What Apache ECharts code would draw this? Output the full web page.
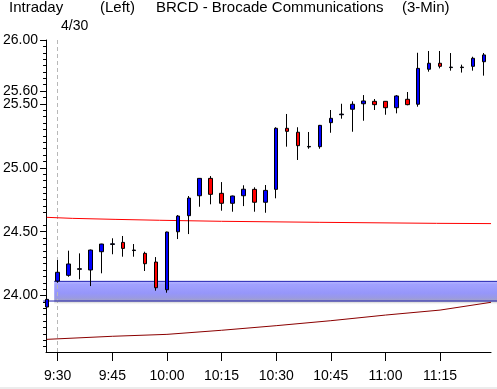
<!DOCTYPE html>
<html><head><meta charset="utf-8">
<script src="https://cdn.jsdelivr.net/npm/echarts@6/dist/echarts.min.js"></script>
<style>html,body{margin:0;padding:0;background:#fff}#c{width:497px;height:389px}</style>
</head><body><div id="c"></div>
<script>
// ---- data ----
const times  = ['9:27','9:30','9:33','9:36','9:39','9:42','9:45','9:48','9:51','9:54','9:57',
                '10:00','10:03','10:06','10:09','10:12','10:15','10:18','10:21','10:24','10:27',
                '10:30','10:33','10:36','10:39','10:42','10:45','10:48','10:51','10:54','10:57',
                '11:00','11:03','11:06','11:09','11:12','11:15','11:18','11:21','11:24','11:27'];
const opens  = [23.910,24.113,24.158,24.205,24.200,24.343,24.400,24.416,24.352,24.330,24.262,
                24.045,24.499,24.625,24.781,24.917,24.800,24.722,24.781,24.831,24.730,
                24.831,25.309,25.278,25.163,25.165,25.353,25.415,25.458,25.501,25.520,
                25.520,25.470,25.536,25.497,25.771,25.818,25.784,25.784,25.794,25.830];
const closes = [23.970,24.182,24.247,24.210,24.356,24.403,24.405,24.369,24.356,24.249,24.061,
                24.497,24.622,24.763,24.917,24.792,24.722,24.779,24.832,24.730,24.823,
                25.309,25.285,25.173,25.167,25.332,25.387,25.420,25.497,25.523,25.494,
                25.470,25.562,25.494,25.778,25.818,25.794,25.788,25.788,25.857,25.883];
const lows   = [23.835,24.100,24.147,24.127,24.074,24.174,24.323,24.304,24.304,24.192,24.038,
                24.022,24.442,24.481,24.695,24.714,24.664,24.656,24.700,24.656,24.648,
                24.761,25.165,25.061,25.149,25.149,25.274,25.384,25.282,25.368,25.452,
                25.415,25.426,25.489,25.478,25.752,25.778,25.760,25.745,25.760,25.721];
const highs  = [23.975,24.278,24.351,24.330,24.360,24.405,24.448,24.466,24.403,24.343,24.301,
                24.500,24.630,24.779,24.920,24.935,24.888,24.782,24.863,24.847,24.865,
                25.317,25.421,25.317,25.280,25.335,25.452,25.501,25.520,25.569,25.538,
                25.522,25.569,25.593,25.900,25.914,25.914,25.898,25.807,25.869,25.898];

const upperTimes = ['9:27','9:34','9:46','9:58','10:15','10:42','11:14','11:29'];
const upperVals  = [24.612,24.604,24.596,24.589,24.581,24.573,24.565,24.563];
const lowerTimes = ['9:27','9:45','10:00','10:15','10:30','10:45','11:00','11:15','11:29'];
const lowerVals  = [23.657,23.681,23.696,23.728,23.764,23.803,23.847,23.886,23.947];

const bandTop = 24.111, bandBottom = 23.957;
const bandStart = '9:30', bandLineStart = '9:27', bandEnd = '11:31';
const sessionStart = '9:30', sessionLabel = '4/30';

const xTickLabels = ['9:30','9:45','10:00','10:15','10:30','10:45','11:00','11:15'];
const yTickLabels = ['24.00','24.50','25.00','25.50','25.60','26.00'];
const yMinorTickLabels = ['23.60','23.65','23.70','23.75','23.80','23.85','23.90','23.95',
  '24.05','24.10','24.15','24.20','24.25','24.30','24.35','24.40','24.45',
  '24.55','24.65','24.70','24.75','24.80','24.85','24.90','24.95',
  '25.05','25.10','25.15','25.20','25.25','25.30','25.35','25.40','25.45',
  '25.55','25.65','25.70','25.75','25.80','25.85','25.90','25.95'];

const titleParts = ['Intraday','(Left)','BRCD - Brocade Communications','(3-Min)'];

// ---- helpers ----
const toMin = s => { const p = s.split(':').map(Number); return p[0]*60 + p[1]; };
const fmt = v => Math.floor(v/60) + ':' + String(Math.round(v%60)).padStart(2,'0');

const X0 = 566.8, X1 = 689, X1b = 691;
const Y0 = 23.558, Y1 = 26.0;
const PX = 3.6705;
const FONT = 'Liberation Sans';

const candleData = times.map((t,i)=>[toMin(t), opens[i], closes[i], lows[i], highs[i]]);
const upperData = upperTimes.map((t,i)=>[toMin(t), upperVals[i]]);
const lowerData = lowerTimes.map((t,i)=>[toMin(t), lowerVals[i]]);

const chart = echarts.init(document.getElementById('c'), null, {renderer:'canvas'});
const titleLefts = [9, 100, 156, 402];
chart.setOption({
  animation:false,
  backgroundColor:'#ffffff',
  title: titleParts.map((t,i)=>({text:t, left:titleLefts[i], top:0, padding:0,
      textStyle:{fontFamily:FONT, fontSize:15, fontWeight:'normal', color:'#000'}}))
    .concat([{text:sessionLabel, left:61, top:19, padding:0,
      textStyle:{fontFamily:FONT, fontSize:14, fontWeight:'normal', color:'#000'}}]),
  graphic:[{type:'rect', left:0, top:387, shape:{width:497,height:2}, style:{fill:'#ececec'}, silent:true}],
  grid:[
    {left:42.5, top:40, width:(X1-X0)*PX, height:312},
    {left:42.5, top:40, width:(X1b-X0)*PX, height:312}
  ],
  xAxis:[
    {type:'value', gridIndex:0, min:X0, max:X1,
     axisLine:{show:true, lineStyle:{color:'#000', width:1}},
     splitLine:{show:false},
     axisTick:{show:true, length:9, lineStyle:{color:'#000'}, customValues:xTickLabels.map(toMin)},
     axisLabel:{show:true, margin:17, fontFamily:FONT, fontSize:14, color:'#000',
       customValues:xTickLabels.map(toMin), formatter:fmt}},
    {type:'value', gridIndex:1, min:X0, max:X1b, show:false}
  ],
  yAxis:[
    {type:'value', gridIndex:0, position:'left', min:Y0, max:Y1,
     axisLine:{show:true, lineStyle:{color:'#000', width:1}},
     splitLine:{show:false},
     axisTick:{show:true, length:6, lineStyle:{color:'#000'}, customValues:yTickLabels.map(Number)},
     axisLabel:{show:true, margin:8, fontFamily:FONT, fontSize:14, color:'#000',
       customValues:yTickLabels.map(Number), formatter:v=>v.toFixed(2)}},
    {type:'value', gridIndex:0, position:'left', min:Y0, max:Y1,
     axisLine:{show:false}, splitLine:{show:false}, axisLabel:{show:false},
     axisTick:{show:true, length:3, lineStyle:{color:'#000'}, customValues:yMinorTickLabels.map(Number)}},
    {type:'value', gridIndex:1, min:Y0, max:Y1, show:false}
  ],
  series:[
    {type:'line', xAxisIndex:1, yAxisIndex:2, z:1, silent:true, showSymbol:false,
     data:[[toMin(bandStart), bandTop],[toMin(bandEnd), bandTop]],
     lineStyle:{color:'#2020b0', width:1},
     markArea:{silent:true, data:[
       [{coord:[toMin(bandStart), bandTop], itemStyle:{color:{type:'linear',x:0,y:0,x2:0,y2:1,colorStops:[
          {offset:0,color:'#b8b8ff'},{offset:0.15,color:'#a2a2ff'},{offset:0.6,color:'#9696fa'},
          {offset:0.85,color:'#9a9ae2'},{offset:1,color:'#a4a4c4'}]}}},
        {coord:[toMin(bandEnd), bandBottom]}],
       [{coord:[toMin(bandStart), bandBottom], itemStyle:{color:{type:'linear',x:0,y:0,x2:0,y2:1,colorStops:[
          {offset:0,color:'#b4b4b4'},{offset:1,color:'rgba(255,255,255,0)'}]}}},
        {coord:[toMin(bandEnd), bandBottom-0.032]}]
     ]}},
    {type:'line', xAxisIndex:1, yAxisIndex:2, z:2, silent:true, showSymbol:false,
     data:[[toMin(bandLineStart), bandBottom],[toMin(bandEnd), bandBottom]],
     lineStyle:{color:'#2020b0', width:1}},
    {type:'line', xAxisIndex:0, yAxisIndex:0, z:3, silent:true, showSymbol:false,
     data:upperData, lineStyle:{color:'#ff0000', width:1}},
    {type:'line', xAxisIndex:0, yAxisIndex:0, z:3, silent:true, showSymbol:false,
     data:lowerData, lineStyle:{color:'#8b0000', width:1}},
    {type:'candlestick', xAxisIndex:0, yAxisIndex:0, z:5,
     data:candleData, encode:{x:0, y:[1,2,3,4]},
     barWidth:4,
     itemStyle:{color:'#0000ff', color0:'#ff0000', borderColor:'#000', borderColor0:'#000',
       borderColorDoji:'#000', borderWidth:1},
     markLine:{silent:true, symbol:'none', label:{show:false}, z:2,
       lineStyle:{color:'#b8b8b8', type:[4,3], width:1},
       data:[{xAxis:toMin(sessionStart)}]}}
  ]
});
</script></body></html>
